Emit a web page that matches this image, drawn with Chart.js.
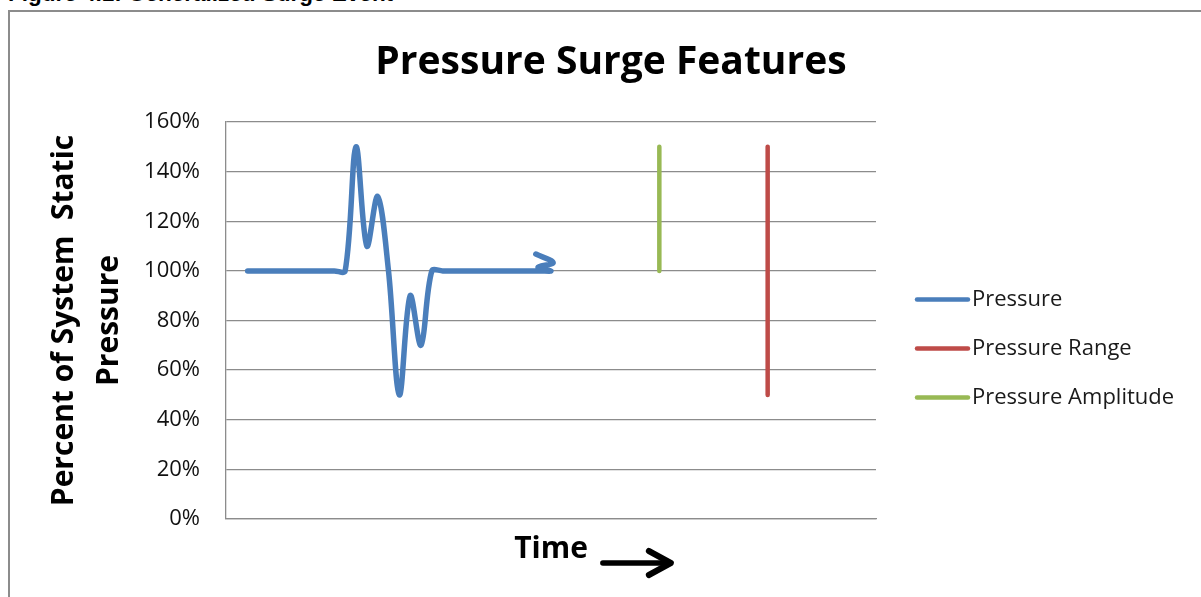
<!DOCTYPE html>
<html>
<head>
<meta charset="utf-8">
<script src="https://cdn.jsdelivr.net/npm/chart.js@4/dist/chart.umd.min.js"></script>
<style>
  html, body { margin: 0; padding: 0; background: #fff; overflow: hidden; }
  body { width: 1201px; height: 597px; position: relative; }
  #caption {
    position: absolute; left: 8px; top: -17px;
    font: bold 22.5px "Liberation Sans", Arial, sans-serif; line-height: 22px;
    white-space: nowrap; color: #000;
  }
  #frame {
    position: absolute; left: 8px; top: 10px; width: 1400px; height: 800px;
    border: 2px solid #8c8c8c;
  }
  #wrap { position: absolute; left: 0; top: 0; width: 1201px; height: 597px; }
</style>
</head>
<body>
<div id="caption">Figure 4.1: Generalized Surge Event</div>
<div id="frame"></div>
<div id="wrap"><canvas id="chart" width="1201" height="597"></canvas></div>
<script>
// Pressure trace (percent of static pressure) over time; the last three points form the arrowhead.
const timeValues = [2, 3, 4, 5, 6, 7, 8, 9, 10, 11, 12, 13, 14, 15, 16, 17, 18, 19, 20, 21, 22, 23, 24, 25, 26, 27, 28, 29, 30, 28.8, 30.2, 28.6];
const pressureValues = [100, 100, 100, 100, 100, 100, 100, 100, 100, 100, 150, 110, 130, 100, 50, 90, 70, 100, 100, 100, 100, 100, 100, 100, 100, 100, 100, 100, 100, 101.5, 103.3, 106.8];

// Range: lowest to highest pressure; amplitude: static to highest pressure.
const rangeTime = [50, 50];
const rangeValues = [50, 150];
const amplitudeTime = [40, 40];
const amplitudeValues = [100, 150];

const yTickValues = [0, 20, 40, 60, 80, 100, 120, 140, 160];
const yTickLabels = ['0%', '20%', '40%', '60%', '80%', '100%', '120%', '140%', '160%'];

const seriesNames = ['Pressure', 'Pressure Range', 'Pressure Amplitude'];
const seriesColors = ['#4a7ebb', '#be4b48', '#98b954'];

const GRID = '#8c8c8c';
const FONT = '"Open Sans", "Liberation Sans", sans-serif';
const TIME_FONT_SIZE = 30;
const TIME_LINE_HEIGHT = 36;
const TIME_PAD_BOTTOM = 30;
const LEGEND_SPACE = 305.5;

function toPoints(xs, ys) {
  return xs.map((x, i) => ({ x: x, y: ys[i] }));
}

// Draws the arrow that follows the "Time" axis title.
const timeArrow = {
  id: 'timeArrow',
  afterDraw(chart) {
    const xs = chart.scales.x;
    const ctx = chart.ctx;
    ctx.save();
    ctx.font = 'bold ' + TIME_FONT_SIZE + 'px ' + FONT;
    const w = ctx.measureText(xs.options.title.text).width;
    const cx = (xs.left + xs.right) / 2;
    const cy = xs.bottom - TIME_LINE_HEIGHT / 2 - TIME_PAD_BOTTOM;
    const x0 = cx + w / 2 + 15;
    const x1 = x0 + 68;
    const y = cy + 14;
    ctx.strokeStyle = '#000';
    ctx.lineCap = 'round';
    ctx.lineJoin = 'round';
    ctx.lineWidth = 5.5;
    ctx.beginPath();
    ctx.moveTo(x0, y);
    ctx.lineTo(x1 - 2, y);
    ctx.stroke();
    ctx.lineWidth = 6;
    ctx.beginPath();
    ctx.moveTo(x1 - 22, y - 12);
    ctx.lineTo(x1, y);
    ctx.lineTo(x1 - 22, y + 12);
    ctx.stroke();
    ctx.restore();
  }
};

// Series key in the space reserved to the right of the plot.
const sideLegend = {
  id: 'sideLegend',
  afterDraw(chart) {
    const ctx = chart.ctx;
    const area = chart.chartArea;
    const lineStart = area.right + 41;
    const lineEnd = lineStart + 51;
    const rowGap = 49;
    const midY = (area.top + area.bottom) / 2 + 28;
    const sets = chart.data.datasets;
    const firstY = midY - rowGap * (sets.length - 1) / 2;
    ctx.save();
    ctx.font = '22px ' + FONT;
    ctx.textBaseline = 'middle';
    ctx.textAlign = 'left';
    sets.forEach((ds, i) => {
      const y = firstY + i * rowGap;
      ctx.strokeStyle = ds.borderColor;
      ctx.lineWidth = 4.5;
      ctx.lineCap = 'round';
      ctx.beginPath();
      ctx.moveTo(lineStart, y);
      ctx.lineTo(lineEnd, y);
      ctx.stroke();
      ctx.fillStyle = '#1a1a1a';
      ctx.fillText(ds.label, lineEnd + 4, y);
    });
    ctx.restore();
  }
};

const lineStyle = (i, width) => ({
  label: seriesNames[i],
  borderColor: seriesColors[i],
  backgroundColor: seriesColors[i],
  borderWidth: width,
  showLine: true,
  fill: false,
  tension: 0.35,
  borderCapStyle: 'round',
  borderJoinStyle: 'round',
  pointRadius: 0,
  pointHoverRadius: 0
});

new Chart(document.getElementById('chart'), {
  type: 'scatter',
  data: {
    datasets: [
      Object.assign(lineStyle(0, 5.5), { data: toPoints(timeValues, pressureValues) }),
      Object.assign(lineStyle(1, 4.5), { data: toPoints(rangeTime, rangeValues) }),
      Object.assign(lineStyle(2, 4.5), { data: toPoints(amplitudeTime, amplitudeValues) })
    ]
  },
  options: {
    responsive: false,
    animation: false,
    devicePixelRatio: 1,
    events: [],
    layout: { padding: { left: 40.5, right: 19.5, top: 0, bottom: 0 } },
    plugins: {
      title: {
        display: true,
        text: 'Pressure Surge Features',
        color: '#000',
        font: { family: FONT, size: 39, weight: 'bold', lineHeight: 1.2 },
        padding: { top: 39.6, bottom: 35.6 }
      },
      legend: { display: false },
      tooltip: { enabled: false }
    },
    scales: {
      x: {
        type: 'linear',
        position: 'bottom',
        min: 0,
        max: 60,
        grid: { display: false, drawTicks: false },
        border: { display: true, color: GRID, width: 1.3 },
        ticks: { display: false },
        title: {
          display: true,
          text: 'Time',
          color: '#000',
          font: { family: FONT, size: TIME_FONT_SIZE, weight: 'bold', lineHeight: TIME_LINE_HEIGHT / TIME_FONT_SIZE },
          padding: { top: 0, bottom: TIME_PAD_BOTTOM }
        },
        afterFit(s) { s.height = 78; }
      },
      y: {
        type: 'linear',
        position: 'left',
        min: 0,
        max: 160,
        grid: { color: GRID, lineWidth: 1.3, drawTicks: false },
        border: { display: true, color: GRID, width: 1.3 },
        afterBuildTicks(s) { s.ticks = yTickValues.map(v => ({ value: v })); },
        ticks: {
          padding: 26,
          color: '#111',
          font: { family: FONT, size: 22 },
          callback(v) { return yTickLabels[yTickValues.indexOf(v)]; }
        },
        title: {
          display: true,
          text: ['Percent of System  Static', 'Pressure'],
          color: '#000',
          font: { family: FONT, size: 30, weight: 'bold', lineHeight: 1.5 },
          padding: { top: 1, bottom: 0 }
        },
        afterFit(s) { s.width = 185.5; }
      },
      keySpace: {
        type: 'linear',
        position: 'right',
        display: true,
        grid: { display: false, drawTicks: false },
        border: { display: false },
        ticks: { display: false },
        afterFit(s) { s.width = LEGEND_SPACE; }
      }
    }
  },
  plugins: [timeArrow, sideLegend]
});
</script>
</body>
</html>
